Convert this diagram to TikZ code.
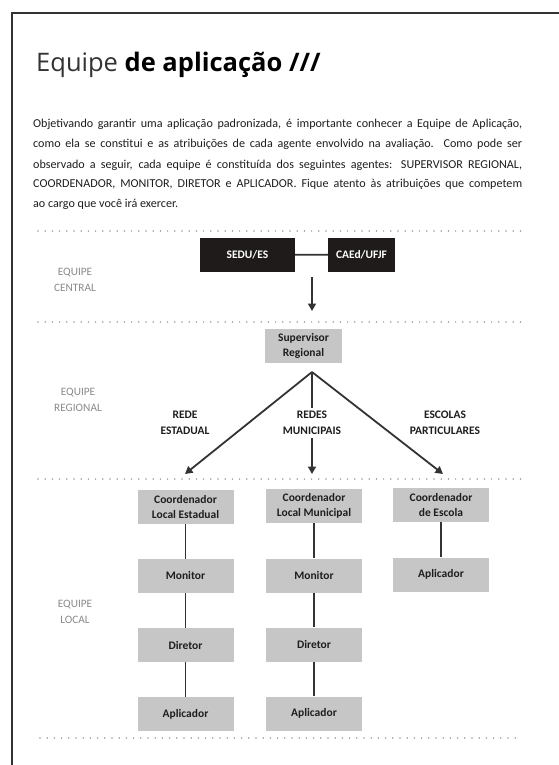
\documentclass[tikz,border=0pt]{standalone}
\usepackage{fontspec}
\setmainfont{Carlito}
\newfontfamily\titlefont{Open Sans}
\usetikzlibrary{arrows.meta}
\definecolor{boxgray}{HTML}{C6C6C6}
\definecolor{boxblack}{HTML}{1F1B1B}
\definecolor{labgray}{HTML}{8A8A8A}
\definecolor{dotgray}{HTML}{9C9C9C}
\definecolor{ink}{HTML}{1E1E1E}
\definecolor{linkc}{HTML}{333333}
\tikzset{
  boxfont/.style={font=\bfseries\fontsize{11.5}{15.5}\selectfont},
  darkbox/.style={boxfont, fill=boxblack, text=white, minimum height=34pt, inner sep=0pt, align=center},
  graybox/.style={boxfont, fill=boxgray, text=ink, minimum width=96pt, minimum height=34pt, inner sep=0pt, align=center},
  teamlabel/.style={text=labgray, font=\fontsize{11.3}{15.5}\selectfont, align=center},
  branch/.style={boxfont, text=ink, align=center},
  sep/.style={dotgray, line width=1.7pt, line cap=round, dash pattern=on 0pt off 7.2pt},
  link/.style={draw=linkc, line width=1.8pt},
  arr/.style={link, -{Triangle[length=7.5pt,width=8pt]}},
}
\begin{document}
\begin{tikzpicture}[x=1pt,y=-1pt]
\useasboundingbox (0,0) rectangle (558,765);
\fill[white] (0,0) rectangle (558,765);
% frame
\draw[linkc, line width=2pt] (12,766) -- (12,13.5) -- (559,13.5);

% title
\node[anchor=base west, inner sep=0pt] (title) at (36,72)
  {\titlefont\fontsize{25.5}{30}\selectfont\color{linkc}Equipe \textbf{\color{black}de aplicação ///}};

% paragraph
\node[anchor=base west, inner sep=0pt, text=ink,
      font=\fontsize{12.1}{20}\selectfont] (para) at (33,128)
  {\vtop{\baselineskip=20pt
   \hbox to 489pt{Objetivando garantir uma aplicação padronizada, é importante conhecer a Equipe de Aplicação,}
   \hbox to 489pt{como ela se constitui e as atribuições de cada agente envolvido na avaliação. Como pode ser}
   \hbox to 489pt{observado a seguir, cada equipe é constituída dos seguintes agentes: SUPERVISOR REGIONAL,}
   \hbox to 489pt{COORDENADOR, MONITOR, DIRETOR e APLICADOR. Fique atento às atribuições que competem}
   \hbox{ao cargo que você irá exercer.}}};

% separators
\draw[sep] (38,231) -- (522,231);
\draw[sep] (38,322) -- (522,322);
\draw[sep] (38,479) -- (522,479);
\draw[sep] (40,738) -- (522,738);

% team labels
\node[teamlabel] (lc) at (75,280) {EQUIPE\\CENTRAL};
\node[teamlabel] (lr) at (78,400) {EQUIPE\\REGIONAL};
\node[teamlabel] (ll) at (75,612) {EQUIPE\\LOCAL};

% central team
\node[darkbox, minimum width=95pt] (sedu) at (247.5,255) {SEDU/ES};
\node[darkbox, minimum width=67pt] (caed) at (361.5,254.5) {CAEd/UFJF};
\draw[link] (sedu) -- (caed);
\coordinate (ca1) at (312,277);
\coordinate (ca2) at (312,311);
\draw[arr] (ca1) -- (ca2);

% regional team
\node[graybox, minimum width=77pt] (sup) at (303.5,346) {Supervisor\\Regional};
\coordinate (apex) at (312,372);
\coordinate (tE) at (185,474);
\coordinate (tM) at (312,474);
\coordinate (tP) at (443,474);
\draw[arr] (apex) -- (tE);
\draw[arr] (apex) -- (tM);
\draw[arr] (apex) -- (tP);
\node[branch] (bE) at (185,423) {REDE\\ESTADUAL};
\node[branch, fill=white, inner sep=3pt] (bM) at (312,423) {REDES\\MUNICIPAIS};
\node[branch] (bP) at (445,423) {ESCOLAS\\PARTICULARES};

% local team
\node[graybox] (c1a) at (185.5,507) {Coordenador\\Local Estadual};
\node[graybox] (c1b) at (185.5,576) {Monitor};
\node[graybox] (c1c) at (185.5,645) {Diretor};
\node[graybox] (c1d) at (185.5,714) {Aplicador};
\node[graybox] (c2a) at (314,506) {Coordenador\\Local Municipal};
\node[graybox] (c2b) at (314,575.5) {Monitor};
\node[graybox] (c2c) at (314,644.5) {Diretor};
\node[graybox] (c2d) at (314,713.5) {Aplicador};
\node[graybox] (c3a) at (441,505) {Coordenador\\de Escola};
\node[graybox] (c3b) at (441,574.5) {Aplicador};
\draw[link] (c1a) -- (c1b);
\draw[link] (c1b) -- (c1c);
\draw[link] (c1c) -- (c1d);
\draw[link] (c2a) -- (c2b);
\draw[link] (c2b) -- (c2c);
\draw[link] (c2c) -- (c2d);
\draw[link] (c3a) -- (c3b);
\end{tikzpicture}
\end{document}
